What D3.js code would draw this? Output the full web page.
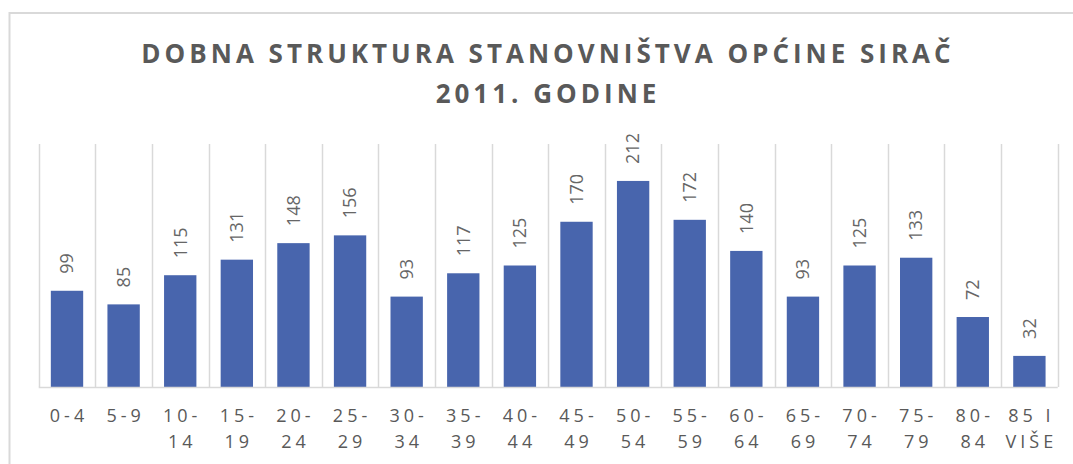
<!DOCTYPE html>
<html>
<head>
<meta charset="utf-8">
<script src="https://d3js.org/d3.v7.min.js"></script>
<style>
  body { margin: 0; background: #fff; }
  text { font-family: "Open Sans", "DejaVu Sans", sans-serif; fill: #595959; }
</style>
</head>
<body>
<script>
// chart data
const titleLines = ["DOBNA STRUKTURA STANOVNIŠTVA OPĆINE SIRAČ", "2011. GODINE"];
const categories = ["0-4", "5-9", "10-14", "15-19", "20-24", "25-29", "30-34", "35-39", "40-44",
                    "45-49", "50-54", "55-59", "60-64", "65-69", "70-74", "75-79", "80-84", "85 I VIŠE"];
const values = [99, 85, 115, 131, 148, 156, 93, 117, 125, 170, 212, 172, 140, 93, 125, 133, 72, 32];
const yDomain = [0, 250];

const width = 1073, height = 464;
const plotLeft = 38.7, plotRight = 1057.7, plotTop = 144, plotBottom = 387;

let svg = d3.select("body").append("svg")
    .attr("width", width)
    .attr("height", height);

// outer chart border (runs off the picture at right and bottom)
svg.append("rect")
    .attr("x", 9.5).attr("y", 13)
    .attr("width", 1200).attr("height", 600)
    .attr("fill", "none")
    .attr("stroke", "#d9d9d9")
    .attr("stroke-width", 2);

// title
svg.append("text")
    .attr("x", 548)
    .attr("text-anchor", "middle")
    .style("font-weight", "bold")
    .style("font-size", "26px")
    .style("letter-spacing", "4px")
    .selectAll("tspan")
    .data(titleLines)
    .enter().append("tspan")
      .attr("x", 548)
      .attr("y", (d, i) => 63 + i * 40)
      .text(d => d);

let x = d3.scaleBand()
    .domain(categories)
    .range([plotLeft, plotRight])
    .paddingInner(0.4286)
    .paddingOuter(0.2143);

let y = d3.scaleLinear()
    .domain(yDomain)
    .range([plotBottom, plotTop]);

// category boundaries for the vertical gridlines
let edge = d3.scaleLinear()
    .domain([0, categories.length])
    .range([plotLeft, plotRight]);

svg.append("g")
    .selectAll("line")
    .data(d3.range(categories.length + 1))
    .enter().append("line")
      .attr("x1", d => Math.round(edge(d)) + 0.5)
      .attr("x2", d => Math.round(edge(d)) + 0.5)
      .attr("y1", y(yDomain[1]))
      .attr("y2", y(0))
      .attr("stroke", "#d9d9d9")
      .attr("stroke-width", 1.5);

// bars
svg.append("g")
    .selectAll("rect")
    .data(values)
    .enter().append("rect")
      .attr("x", (d, i) => x(categories[i]))
      .attr("y", d => y(d))
      .attr("width", x.bandwidth())
      .attr("height", d => y(0) - y(d))
      .attr("fill", "#4865ad");

// baseline
svg.append("line")
    .attr("x1", plotLeft).attr("x2", plotRight)
    .attr("y1", y(0) + 0.5).attr("y2", y(0) + 0.5)
    .attr("stroke", "#d9d9d9")
    .attr("stroke-width", 1.5);

// value labels, rotated
svg.append("g")
    .selectAll("text")
    .data(values)
    .enter().append("text")
      .attr("transform", (d, i) =>
          "translate(" + (x(categories[i]) + x.bandwidth() / 2) + "," + (y(d) - 17) + ") rotate(-90)")
      .attr("dy", "0.35em")
      .style("font-size", "18px")
      .style("fill", "#666")
      .text(d => d);

// category labels, wrapped like Excel does
function wrap(c) {
  if (c.indexOf(" ") > 0) {
    let k = c.lastIndexOf(" ");
    return [c.slice(0, k), c.slice(k + 1)];
  }
  if (c.length > 3) {
    let k = c.indexOf("-") + 1;
    return [c.slice(0, k), c.slice(k)];
  }
  return [c];
}

let ticks = svg.append("g")
    .selectAll("text")
    .data(categories)
    .enter().append("text")
      .attr("text-anchor", "middle")
      .style("font-size", "18px")
      .style("letter-spacing", "4px");

ticks.selectAll("tspan")
    .data(c => wrap(c).map(s => ({ s: s, c: c })))
    .enter().append("tspan")
      .attr("x", d => x(d.c) + x.bandwidth() / 2 + 2)
      .attr("y", (d, i) => 422 + i * 25.5)
      .text(d => d.s);
</script>
</body>
</html>
